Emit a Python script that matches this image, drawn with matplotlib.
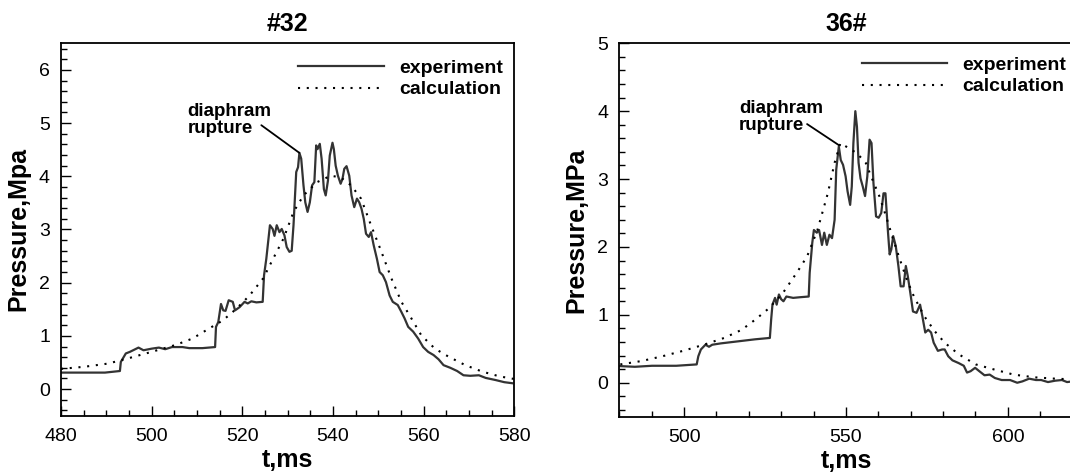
"""
Pressure histories: experiment vs calculation for tests #32 and 36#
"""
import matplotlib
matplotlib.use('Agg')
import matplotlib.pyplot as plt
from matplotlib.ticker import MultipleLocator

plt.rcParams['font.family'] = ['Liberation Sans', 'DejaVu Sans']

# ---- test #32 ----
t32_exp = [480, 489.7, 493, 493.2, 494.3, 495.2, 497.1, 498.2, 500, 501.6, 503, 504.5, 506.8,
           508.3, 511.2, 514, 514.2, 514.7, 515.3, 515.8, 516.3, 517, 517.9, 518.4, 519.4, 520.5,
           521.2, 522, 523.1, 524.5, 524.8, 525.3, 526.1, 526.7, 527.1, 527.6, 528.2, 528.7,
           529.3, 529.8, 530.4, 530.9, 531.3, 531.9, 532.3, 532.6, 533, 533.5, 533.9, 534.4,
           534.9, 535.4, 535.9, 536.3, 536.6, 537.1, 537.5, 538, 538.4, 538.9, 539.3, 539.9,
           540.2, 540.6, 541.1, 541.7, 542.1, 542.5, 543, 543.6, 544.1, 544.7, 545.3, 545.8,
           546.3, 546.8, 547.3, 547.9, 548.4, 549, 549.7, 550.3, 551, 551.7, 552.5, 553.2,
           554.3, 555.1, 555.8, 556.6, 557.7, 558.8, 559.9, 561, 562.2, 563.3, 564.4, 565.9,
           567.4, 568.8, 570.3, 572.2, 573.7, 575.9, 577.8, 579.6]
p32_exp = [0.31, 0.31, 0.34, 0.51, 0.67, 0.70, 0.78, 0.73, 0.76, 0.78, 0.75, 0.79, 0.79,
           0.77, 0.77, 0.79, 1.17, 1.26, 1.60, 1.48, 1.47, 1.67, 1.64, 1.48, 1.54, 1.64,
           1.61, 1.65, 1.63, 1.64, 2.14, 2.45, 3.08, 3.01, 2.88, 3.08, 2.95, 3.01,
           2.89, 2.67, 2.58, 2.60, 3.08, 4.08, 4.17, 4.44, 4.33, 3.83, 3.51, 3.33,
           3.51, 3.83, 3.89, 4.58, 4.51, 4.61, 4.33, 3.76, 3.64, 3.92, 4.39, 4.63,
           4.51, 4.20, 4.01, 3.86, 3.95, 4.14, 4.19, 4.01, 3.64, 3.42, 3.58, 3.51,
           3.39, 3.20, 2.92, 2.86, 2.95, 2.70, 2.45, 2.20, 2.14, 2.01, 1.76, 1.64,
           1.58, 1.45, 1.33, 1.17, 1.08, 0.95, 0.79, 0.70, 0.64, 0.56, 0.45, 0.40,
           0.34, 0.26, 0.25, 0.26, 0.21, 0.17, 0.13, 0.11]
t32_calc = [480, 485.2, 490.4, 494.9, 500, 505.3, 509, 512.7, 515.7, 518.7, 521.6, 524.6,
            526.8, 529.1, 531.3, 533.5, 536.5, 539.5, 541.7, 544, 546.2, 548.4, 550.7,
            552.9, 555.1, 557.3, 559.5, 562.5, 565.5, 569.2, 572.9, 576.7, 580]
p32_calc = [0.38, 0.42, 0.48, 0.58, 0.70, 0.83, 0.95, 1.14, 1.29, 1.51, 1.76, 2.08,
            2.45, 2.83, 3.33, 3.64, 3.89, 4.01, 3.98, 3.83, 3.58, 3.08, 2.58,
            2.08, 1.64, 1.33, 1.01, 0.76, 0.61, 0.45, 0.33, 0.24, 0.19]

# ---- test 36# ----
t36_exp = [480.3, 484.8, 490.1, 497.6, 503.9, 504.4, 505.2, 506.6, 507.7, 508.7, 511.4, 516.7,
           522, 526.5, 526.9, 527.3, 528.1, 528.6, 529.3, 530, 530.7, 531.6, 533.7, 535.9,
           538.5, 538.8, 539.6, 540.1, 541, 541.7, 542.6, 543.3, 544.1, 544.9, 545.7, 546.5,
           547, 547.8, 548.4, 549.1, 549.9, 550.5, 551.3, 551.8, 552.3, 552.9, 553.4, 553.9,
           554.5, 555.2, 555.9, 556.6, 557.3, 557.9, 558.5, 559.3, 560.1, 560.9, 561.6, 562.2,
           563, 563.5, 564, 564.6, 565.4, 566.2, 566.9, 567.8, 568.5, 569.1, 569.9, 570.7,
           571.8, 572.9, 573.6, 574.5, 575.4, 576.3, 577.1, 578.4, 579.7, 580.5, 581.6, 582.9,
           584.8, 586.4, 587.4, 588.5, 589.9, 591.2, 592.8, 594.4, 596, 598.1, 600.7, 602.9,
           604.5, 606.6, 608.7, 610.3, 612.4, 614.6, 616.7, 618.3, 620]
p36_exp = [0.245, 0.235, 0.25, 0.25, 0.27, 0.39, 0.49, 0.56, 0.53, 0.56, 0.58, 0.61,
           0.64, 0.66, 0.93, 1.15, 1.25, 1.15, 1.30, 1.23, 1.20, 1.27, 1.25, 1.26,
           1.27, 1.62, 2.06, 2.25, 2.21, 2.25, 2.03, 2.21, 2.03, 2.18, 2.13, 2.40,
           3.14, 3.48, 3.28, 3.21, 3.04, 2.82, 2.62, 2.89, 3.53, 4.00, 3.77, 3.24,
           3.01, 2.89, 2.75, 3.04, 3.58, 3.53, 2.94, 2.45, 2.43, 2.50, 2.79, 2.79,
           2.21, 1.89, 1.96, 2.16, 2.01, 1.72, 1.42, 1.42, 1.72, 1.57, 1.32, 1.05,
           1.03, 1.15, 0.98, 0.74, 0.78, 0.74, 0.59, 0.47, 0.49, 0.49, 0.39, 0.33,
           0.29, 0.25, 0.15, 0.17, 0.22, 0.17, 0.11, 0.12, 0.07, 0.04, 0.04, 0.0,
           0.02, 0.06, 0.04, 0.04, 0.01, 0.03, 0.04, 0.01, 0.02]
t36_calc = [480.3, 486.9, 493.3, 499.7, 506.1, 512.4, 517.8, 522, 526.3, 530.5, 534.8, 538,
            541.2, 544.4, 546.5, 548.3, 550.7, 553.4, 556.1, 558.2, 560.3, 562.4, 564.6,
            566.7, 568.8, 571, 574.2, 577.4, 580.5, 584.8, 590.1, 595.4, 601.8, 608.2,
            614.6, 620]
p36_calc = [0.27, 0.32, 0.39, 0.47, 0.56, 0.66, 0.78, 0.93, 1.10, 1.32, 1.62, 1.86,
            2.25, 2.79, 3.24, 3.53, 3.46, 3.38, 3.24, 2.99, 2.75, 2.45, 2.11,
            1.81, 1.52, 1.27, 0.98, 0.76, 0.59, 0.42, 0.27, 0.20, 0.12, 0.08,
            0.06, 0.05]

panels = [
    dict(title='#32', ylabel='Pressure,Mpa', t_exp=t32_exp, p_exp=p32_exp,
         t_calc=t32_calc, p_calc=p32_calc, xlim=(480, 580), ylim=(-0.5, 6.5),
         xmajor=20, xminor=5, rect=[0.0570, 0.1230, 0.4236, 0.7857],
         rupture=(532.6, 4.44), line_from=(524.2, 4.96), text_at=(507.9, 5.05),
         leg_anchor=(0.524, 0.958)),
    dict(title='36#', ylabel='Pressure,MPa', t_exp=t36_exp, p_exp=p36_exp,
         t_calc=t36_calc, p_calc=p36_calc, xlim=(480, 620), ylim=(-0.5, 5),
         xmajor=50, xminor=10, rect=[0.5788, 0.1209, 0.4236, 0.7878],
         rupture=(547.8, 3.50), line_from=(538.0, 3.81), text_at=(516.9, 3.92),
         leg_anchor=(0.535, 0.966)),
]

fig = plt.figure(figsize=(10.7, 4.74), dpi=100)

for p in panels:
    ax = fig.add_axes(p['rect'])
    ax.plot(p['t_exp'], p['p_exp'], color='#333333', lw=1.6, label='experiment')
    ax.plot(p['t_calc'], p['p_calc'], color='black', lw=1.5,
            linestyle=(0, (1, 3.2)), label='calculation')

    ax.set_xlim(*p['xlim'])
    ax.set_ylim(*p['ylim'])
    ax.xaxis.set_major_locator(MultipleLocator(p['xmajor']))
    ax.xaxis.set_minor_locator(MultipleLocator(p['xminor']))
    ax.yaxis.set_major_locator(MultipleLocator(1))
    ax.yaxis.set_minor_locator(MultipleLocator(0.2))
    ax.tick_params(which='both', direction='in', top=False, right=False, width=1)
    ax.tick_params(which='major', length=7, labelsize=14)
    ax.tick_params(axis='x', which='both', pad=9)
    ax.tick_params(axis='y', which='both', pad=8)
    ax.tick_params(which='minor', length=4)
    for s in ax.spines.values():
        s.set_linewidth(1.3)

    ax.set_title(p['title'], fontsize=18, fontweight='bold', pad=9)
    ax.set_xlabel('t,ms', fontsize=18, fontweight='bold', labelpad=2)
    ax.set_ylabel(p['ylabel'], fontsize=18, fontweight='bold', labelpad=6)

    # diaphragm rupture note
    ax.text(p['text_at'][0], p['text_at'][1], 'diaphram\nrupture', ha='left', va='center',
            fontsize=13.5, fontweight='bold', linespacing=1.0)
    ax.annotate('', xy=p['rupture'], xytext=p['line_from'],
                arrowprops=dict(arrowstyle='-', color='black', lw=1.3,
                                shrinkA=0, shrinkB=0))

    ax.legend(loc='upper left', bbox_to_anchor=p['leg_anchor'], frameon=False,
              prop=dict(size=14, weight='bold'), handlelength=4.4,
              handletextpad=0.77, labelspacing=0.22, borderpad=0, borderaxespad=0)

plt.savefig('out.png', dpi=100, facecolor='white')
